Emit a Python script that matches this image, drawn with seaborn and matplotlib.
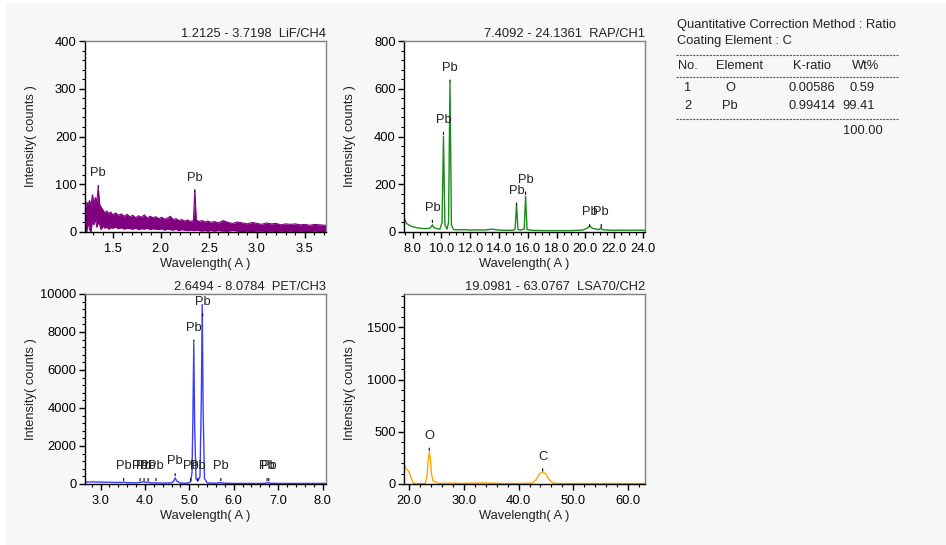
import matplotlib
matplotlib.use('Agg')
import matplotlib.pyplot as plt
from matplotlib.ticker import MultipleLocator, FormatStrFormatter
from matplotlib.patches import Rectangle
import seaborn as sns

# LiF/CH4 spectrum: noisy band given as upper / lower envelope
x_lif = [1.215, 1.23, 1.245, 1.26, 1.275, 1.29, 1.305, 1.32, 1.335, 1.35,
         1.365, 1.38, 1.40, 1.42, 1.44, 1.46, 1.48, 1.50, 1.53, 1.56,
         1.59, 1.62, 1.65, 1.68, 1.71, 1.74, 1.77, 1.80, 1.83, 1.86,
         1.89, 1.92, 1.95, 1.98, 2.01, 2.04, 2.07, 2.10, 2.13, 2.16,
         2.19, 2.22, 2.25, 2.28, 2.31, 2.34, 2.355, 2.37, 2.40, 2.43,
         2.46, 2.49, 2.52, 2.56, 2.60, 2.65, 2.70, 2.75, 2.80, 2.85,
         2.90, 2.95, 3.00, 3.05, 3.10, 3.15, 3.20, 3.25, 3.30, 3.35,
         3.40, 3.45, 3.50, 3.55, 3.60, 3.65, 3.72]
lif_hi = [50, 62, 58, 66, 55, 78, 60, 72, 64, 93,
          58, 52, 46, 40, 44, 38, 42, 36, 40, 35,
          38, 33, 37, 32, 35, 30, 34, 31, 36, 29,
          33, 30, 32, 28, 31, 27, 29, 33, 26, 28,
          24, 26, 23, 25, 22, 24, 86, 25, 22, 24,
          21, 23, 20, 22, 19, 24, 20, 18, 21, 19,
          17, 20, 18, 16, 19, 17, 18, 15, 17, 16,
          17, 15, 16, 14, 16, 15, 14]
lif_lo = [10, 0, 20, 5, 0, 25, 15, 28, 10, 20,
          15, 5, 12, 8, 10, 6, 9, 8, 10, 7,
          9, 6, 8, 7, 6, 8, 5, 7, 6, 8,
          5, 7, 6, 5, 7, 4, 6, 5, 4, 6,
          3, 5, 4, 3, 4, 3, 3, 4, 3, 2,
          3, 2, 3, 2, 3, 2, 2, 3, 2, 1,
          2, 1, 2, 2, 1, 2, 1, 2, 1, 2,
          1, 2, 1, 1, 2, 1, 1]
lif_pk_x = [1.35, 2.355]
lif_pk_y = [93, 84]

# RAP/CH1
x_rap = [7.41, 7.6, 7.8, 8.0, 8.3, 8.6, 8.9, 9.2, 9.3, 9.38, 9.46, 9.6, 9.9,
         10.05, 10.15, 10.25, 10.4, 10.5, 10.6, 10.7, 10.85, 11.2, 11.6, 12.0,
         12.5, 13.0, 13.5, 14.0, 14.5, 15.0, 15.12, 15.22, 15.32, 15.5, 15.75,
         15.85, 15.95, 16.3, 17.0, 18.0, 19.0, 19.8, 20.1, 20.3, 20.5, 20.9,
         21.05, 21.1, 21.15, 21.5, 22.0, 22.5, 23.0, 23.5, 24.14]
y_rap = [55, 35, 28, 22, 18, 15, 14, 16, 22, 30, 20, 15, 12,
         40, 400, 30, 12, 40, 625, 30, 10, 9, 10, 8,
         9, 8, 12, 8, 7, 7, 12, 115, 10, 8, 12,
         150, 10, 7, 6, 6, 6, 8, 15, 25, 15, 10,
         14, 20, 10, 8, 7, 8, 7, 8, 7]
rap_pk_x = [9.38, 10.15, 10.6, 15.22, 15.85, 20.3, 21.1]
rap_pk_y = [40, 408, 627, 112, 158, 22, 22]

# PET/CH3
x_pet = [2.65, 2.8, 3.0, 3.2, 3.4, 3.52, 3.6, 3.8, 3.9, 3.98, 4.03, 4.07, 4.12,
         4.25, 4.4, 4.6, 4.65, 4.68, 4.72, 4.8, 4.95, 5.03, 5.06, 5.08, 5.1,
         5.12, 5.15, 5.19, 5.24, 5.27, 5.29, 5.31, 5.34, 5.4, 5.6, 5.71, 5.8,
         6.0, 6.5, 6.7, 6.76, 6.82, 7.0, 7.5, 8.08]
y_pet = [100, 110, 100, 90, 80, 90, 70, 60, 90, 120, 80, 110, 60,
         60, 50, 60, 150, 320, 150, 50, 40, 120, 600, 3500, 7400,
         3000, 300, 150, 400, 4500, 9450, 4000, 300, 60, 40, 70, 40,
         30, 30, 30, 80, 40, 30, 30, 30]
pet_pk_x = [3.52, 3.89, 3.98, 4.07, 4.25, 4.68, 5.03, 5.1, 5.19, 5.3, 5.71, 6.75, 6.79]
pet_pk_y = [174, 174, 174, 174, 174, 435, 174, 7460, 174, 8830, 174, 174, 174]

# LSA70/CH2
x_lsa = [19.1, 19.3, 19.6, 20.0, 20.4, 20.8, 21.5, 22.5, 23.0, 23.3, 23.5, 23.7,
         23.9, 24.1, 24.4, 24.8, 25.5, 27, 30, 33.5, 37, 40, 42.5, 43.2, 43.8,
         44.4, 45.0, 45.6, 46.2, 47, 50, 55, 60, 63.08]
y_lsa = [210, 160, 140, 120, 60, 8, 5, 5, 5, 80, 220, 305,
         250, 100, 30, 20, 5, 8, 6, 10, 5, 5, 8, 40, 95,
         115, 95, 40, 12, 5, 5, 5, 5, 5]
lsa_pk_x = [23.7, 44.4]
lsa_pk_y = [322, 124]
lsa_pk_txt = ['O', 'C']

# result table
tab_no = ['1', '2']
tab_el = ['O', 'Pb']
tab_k = ['0.00586', '0.99414']
tab_wt = ['0.59', '99.41']
tab_total = '100.00'

sns.set_theme(style='ticks')
plt.rcParams['font.family'] = ['Liberation Sans', 'DejaVu Sans']
FS = 9.3
W, H = 946, 545

fig = plt.figure(figsize=(W / 100, H / 100), dpi=100, facecolor='white')
fig.patches.append(Rectangle((6 / W, 0), 1, 1 - 3 / H, transform=fig.transFigure,
                             facecolor='#f7f7f7', edgecolor='none', zorder=-10))


def px_axes(l, t, r, b):
    return fig.add_axes([l / W, 1 - b / H, (r - l) / W, (b - t) / H])


def style(ax, title, xlim, ylim, xmaj, xmin, ymaj, ymin, wpx):
    ax.set_facecolor('white')
    ax.set_xlim(xlim)
    ax.set_ylim(ylim)
    ax.xaxis.set_major_locator(MultipleLocator(xmaj))
    ax.xaxis.set_minor_locator(MultipleLocator(xmin))
    ax.yaxis.set_major_locator(MultipleLocator(ymaj))
    ax.yaxis.set_minor_locator(MultipleLocator(ymin))
    ax.xaxis.set_major_formatter(FormatStrFormatter('%.1f'))
    ax.yaxis.set_major_formatter(FormatStrFormatter('%d'))
    for s in ['top', 'right']:
        ax.spines[s].set_color('#808080')
        ax.spines[s].set_linewidth(1)
    for s in ['left', 'bottom']:
        ax.spines[s].set_color('black')
        ax.spines[s].set_linewidth(1)
    ax.tick_params(which='major', direction='out', length=4, width=1,
                   colors='black', labelsize=FS, pad=2)
    ax.tick_params(axis='x', which='major', pad=4)
    ax.tick_params(which='minor', direction='out', length=2, width=0.8, colors='black')
    ax.set_xlabel('Wavelength( A )', fontsize=FS, color='#222222', labelpad=2)
    ax.set_ylabel('Intensity( counts )', fontsize=FS, color='#222222')
    ax.yaxis.set_label_coords(-48 / wpx, 0.5)
    ax.set_title(title, loc='right', fontsize=FS, pad=3, color='#222222')


def mark(ax, xs, ys, txt):
    for x, y, t in zip(xs, ys, txt):
        ax.annotate(t, xy=(x, y), xytext=(0, 6), textcoords='offset points',
                    ha='center', va='bottom', fontsize=FS, color='#222222',
                    arrowprops=dict(arrowstyle='-', color='black', lw=0.8,
                                    shrinkA=2, shrinkB=0))


# LiF/CH4
ax1 = px_axes(85, 41, 326, 232)
purple = '#800080'
ax1.fill_between(x_lif, lif_lo, lif_hi, color=purple, lw=0)
sns.lineplot(x=x_lif, y=lif_hi, ax=ax1, color=purple, lw=0.8, estimator=None)
sns.lineplot(x=x_lif, y=lif_lo, ax=ax1, color=purple, lw=0.8, estimator=None)
style(ax1, '1.2125 - 3.7198  LiF/CH4', (1.2125, 3.7198), (0, 400), 0.5, 0.1, 100, 20, 241)
mark(ax1, lif_pk_x, lif_pk_y, ['Pb'] * len(lif_pk_x))

# RAP/CH1
ax2 = px_axes(404, 41, 645, 232)
sns.lineplot(x=x_rap, y=y_rap, ax=ax2, color='#1a8a1a', lw=1, estimator=None)
style(ax2, '7.4092 - 24.1361  RAP/CH1', (7.4092, 24.1361), (0, 800), 2, 0.5, 200, 40, 241)
mark(ax2, rap_pk_x, rap_pk_y, ['Pb'] * len(rap_pk_x))

# PET/CH3
ax3 = px_axes(85, 294, 326, 484)
sns.lineplot(x=x_pet, y=y_pet, ax=ax3, color='#3c3cff', lw=1, estimator=None)
style(ax3, '2.6494 - 8.0784  PET/CH3', (2.6494, 8.0784), (0, 10000), 1, 0.2, 2000, 400, 241)
mark(ax3, pet_pk_x, pet_pk_y, ['Pb'] * len(pet_pk_x))

# LSA70/CH2
ax4 = px_axes(404, 294, 645, 484)
sns.lineplot(x=x_lsa, y=y_lsa, ax=ax4, color='#ffa500', lw=1, estimator=None)
style(ax4, '19.0981 - 63.0767  LSA70/CH2', (19.0981, 63.0767), (0, 1820), 10, 2, 500, 100, 241)
mark(ax4, lsa_pk_x, lsa_pk_y, lsa_pk_txt)


# result table (pixel coordinates of the figure)
def ftext(x, y, s, ha='left'):
    fig.text(x / W, 1 - y / H, s, fontsize=FS, ha=ha, va='center', color='#222222')


def dashes(y):
    fig.add_artist(plt.Line2D([676 / W, 898 / W], [1 - y / H, 1 - y / H],
                              color='#555555', lw=0.8, ls=(0, (2, 1))))


ftext(677, 25, 'Quantitative Correction Method : Ratio')
ftext(677, 41, 'Coating Element : C')
dashes(55)
ftext(678, 66, 'No.')
ftext(716, 66, 'Element')
ftext(793, 66, 'K-ratio')
ftext(852, 66, 'Wt%')
dashes(77)
for i in range(len(tab_no)):
    y = 88 + i * 18
    ftext(688, y, tab_no[i], ha='center')
    ftext(730, y, tab_el[i], ha='center')
    ftext(788, y, tab_k[i])
    ftext(875, y, tab_wt[i], ha='right')
dashes(119)
ftext(843, 131, tab_total)

fig.savefig('out.png', dpi=100, facecolor=fig.get_facecolor())
